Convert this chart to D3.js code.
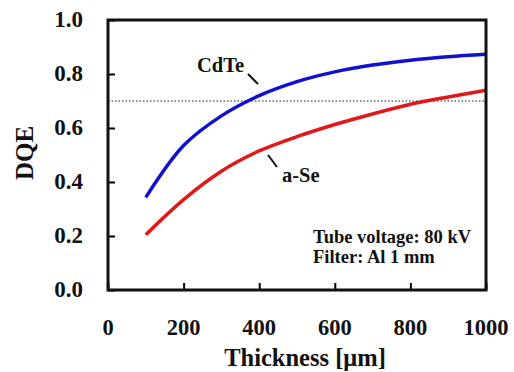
<!DOCTYPE html>
<html>
<head>
<meta charset="utf-8">
<script src="https://cdn.jsdelivr.net/npm/d3@7"></script>
<style>
  body { margin: 0; background: #fff; }
</style>
</head>
<body>
<script>
const thickness = [100, 200, 300, 400, 500, 600, 700, 800, 900, 1000];
const cdte = [0.343, 0.535, 0.645, 0.72, 0.772, 0.808, 0.833, 0.851, 0.864, 0.873];
const aSe = [0.205, 0.335, 0.44, 0.515, 0.568, 0.613, 0.652, 0.688, 0.715, 0.74];
const xTicks = [0, 200, 400, 600, 800, 1000];
const yTicks = [0, 0.2, 0.4, 0.6, 0.8, 1.0];
const refLevel = 0.70;

const width = 514, height = 372;
const margin = { top: 20, right: 28, bottom: 82, left: 108 };
const serif = '"Liberation Serif"';

const svg = d3.select('body').append('svg')
    .attr('width', width)
    .attr('height', height);

const x = d3.scaleLinear().domain([0, 1000]).range([margin.left, width - margin.right]);
const y = d3.scaleLinear().domain([0, 1]).range([height - margin.bottom, margin.top]);

// inward ticks
svg.append('g')
    .attr('transform', `translate(0,${y(0)})`)
    .call(d3.axisTop(x).tickValues(xTicks).tickSize(7).tickFormat(''))
    .call(g => g.select('.domain').remove())
    .call(g => g.selectAll('line').attr('stroke-width', 2));

svg.append('g')
    .attr('transform', `translate(${x(0)},0)`)
    .call(d3.axisRight(y).tickValues(yTicks).tickSize(7).tickFormat(''))
    .call(g => g.select('.domain').remove())
    .call(g => g.selectAll('line').attr('stroke-width', 2));

function label(sel) {
    return sel.style('font-family', serif).style('font-weight', 'bold').attr('fill', '#111');
}

// tick labels
svg.append('g').selectAll('text')
    .data(xTicks)
    .join('text')
    .call(label)
    .attr('x', d => x(d))
    .attr('y', 335)
    .attr('text-anchor', 'middle')
    .style('font-size', '22.5px')
    .text(d => d);

svg.append('g').selectAll('text')
    .data(yTicks)
    .join('text')
    .call(label)
    .attr('x', 83)
    .attr('y', d => y(d) + 7)
    .attr('text-anchor', 'end')
    .style('font-size', '23px')
    .text(d => d.toFixed(1));

// reference line
svg.append('line')
    .attr('x1', x(0)).attr('x2', x(1000))
    .attr('y1', y(refLevel)).attr('y2', y(refLevel))
    .attr('stroke', '#666')
    .attr('stroke-width', 1.5)
    .attr('stroke-dasharray', '1.5,2');

const line = d3.line()
    .x((d, i) => x(thickness[i]))
    .y(d => y(d))
    .curve(d3.curveCatmullRom.alpha(0.5));

svg.append('path')
    .datum(cdte)
    .attr('fill', 'none')
    .attr('stroke', '#1010d0')
    .attr('stroke-width', 3.5)
    .attr('d', line);

svg.append('path')
    .datum(aSe)
    .attr('fill', 'none')
    .attr('stroke', '#e01818')
    .attr('stroke-width', 3.5)
    .attr('d', line);

// frame
svg.append('rect')
    .attr('x', x(0)).attr('y', y(1))
    .attr('width', x(1000) - x(0))
    .attr('height', y(0) - y(1))
    .attr('fill', 'none')
    .attr('stroke', '#111')
    .attr('stroke-width', 3);

// curve labels with leaders
svg.append('text').call(label).attr('x', 197).attr('y', 72)
    .style('font-size', '20.5px').text('CdTe');
svg.append('line').attr('x1', 248).attr('y1', 74).attr('x2', 258).attr('y2', 84)
    .attr('stroke', '#111').attr('stroke-width', 2);

svg.append('text').call(label).attr('x', 282).attr('y', 182)
    .style('font-size', '20.5px').text('a-Se');
svg.append('line').attr('x1', 268).attr('y1', 155).attr('x2', 277).attr('y2', 167)
    .attr('stroke', '#111').attr('stroke-width', 2);

// conditions
svg.append('text').call(label).attr('x', 313).attr('y', 243)
    .style('font-size', '18.5px').text('Tube voltage: 80 kV');
svg.append('text').call(label).attr('x', 313).attr('y', 263)
    .style('font-size', '18.5px').text('Filter: Al 1 mm');

// axis titles
svg.append('text').call(label)
    .attr('x', 305)
    .attr('y', 366)
    .attr('text-anchor', 'middle')
    .style('font-size', '24.5px')
    .text('Thickness [μm]');

svg.append('text').call(label)
    .attr('transform', 'translate(33,153) rotate(-90)')
    .attr('text-anchor', 'middle')
    .style('font-size', '25px')
    .text('DQE');
</script>
</body>
</html>
